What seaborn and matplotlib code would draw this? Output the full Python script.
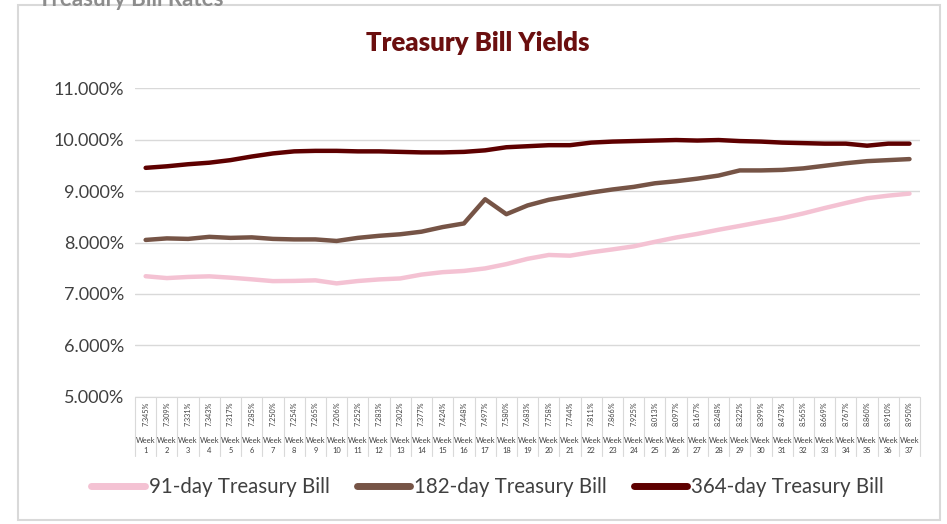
import numpy as np
import pandas as pd
import seaborn as sns
import matplotlib.pyplot as plt
from matplotlib.patches import Rectangle

# === DATA ===
weeks = [f"Week {i}" for i in range(1, 38)]

bill_91 = [7.345, 7.309, 7.331, 7.343, 7.317, 7.285, 7.250, 7.254, 7.265, 7.206,
           7.252, 7.283, 7.302, 7.377, 7.424, 7.448, 7.497, 7.580, 7.683, 7.758,
           7.744, 7.811, 7.866, 7.925, 8.013, 8.097, 8.167, 8.248, 8.322, 8.399,
           8.473, 8.565, 8.669, 8.767, 8.860, 8.910, 8.950]

bill_182 = [8.05, 8.08, 8.07, 8.11, 8.09, 8.10, 8.07, 8.06, 8.06, 8.03,
            8.09, 8.13, 8.16, 8.21, 8.30, 8.37, 8.84, 8.55, 8.72, 8.83,
            8.90, 8.97, 9.03, 9.08, 9.15, 9.19, 9.24, 9.30, 9.40, 9.40,
            9.41, 9.44, 9.49, 9.54, 9.58, 9.60, 9.62]

bill_364 = [9.45, 9.48, 9.52, 9.55, 9.60, 9.67, 9.73, 9.77, 9.78, 9.78,
            9.77, 9.77, 9.76, 9.75, 9.75, 9.76, 9.79, 9.85, 9.87, 9.89,
            9.89, 9.94, 9.96, 9.97, 9.98, 9.99, 9.98, 9.99, 9.97, 9.96,
            9.94, 9.93, 9.92, 9.92, 9.88, 9.92, 9.92]

series_names = ["91-day Treasury Bill", "182-day Treasury Bill", "364-day Treasury Bill"]
palette = {"91-day Treasury Bill": "#F4C2D3",
           "182-day Treasury Bill": "#765446",
           "364-day Treasury Bill": "#5E0000"}

df = pd.DataFrame({
    "week": list(range(len(weeks))) * 3,
    "series": np.repeat(series_names, len(weeks)),
    "yield": bill_91 + bill_182 + bill_364,
})

# === PLOT ===
sns.set_theme(style="white")
plt.rcParams["font.family"] = ["Lato", "DejaVu Sans"]

fig = plt.figure(figsize=(9.47, 5.24), dpi=100)
ax = fig.add_axes([0.1426, 0.2424, 0.829, 0.5896])

sns.lineplot(data=df, x="week", y="yield", hue="series", palette=palette,
             linewidth=3.2, ax=ax, legend=True)

ax.set_xlim(-0.5, len(weeks) - 0.5)
ax.set_ylim(5, 11)
ax.set_yticks(np.arange(5, 11.01, 1))
ax.set_yticklabels([f"{v:.3f}%" for v in np.arange(5, 11.01, 1)], fontsize=13, color="#404040")
ax.yaxis.grid(True, color="#D9D9D9", linewidth=1)
ax.set_xticks([])
ax.set_xlabel("")
ax.set_ylabel("")
for s in ax.spines.values():
    s.set_visible(False)
ax.tick_params(axis="y", length=0, pad=8)

# === Data table under the axis ===
trans = ax.get_xaxis_transform()
grid_kw = dict(color="#D9D9D9", linewidth=0.8, clip_on=False, transform=trans)
ax.plot([-0.5, len(weeks) - 0.5], [0, 0], **grid_kw)
for i in range(len(weeks) + 1):
    ax.plot([i - 0.5, i - 0.5], [0, -0.19], **grid_kw)
for i, w in enumerate(weeks):
    ax.text(i, -0.055, f"{bill_91[i]:.3f}%", rotation=90, ha="center", va="center",
            fontsize=5.2, color="#404040", transform=trans, clip_on=False)
    ax.text(i, -0.142, "Week", ha="center", va="center", fontsize=5.4,
            color="#404040", transform=trans, clip_on=False)
    ax.text(i, -0.172, w.split()[1], ha="center", va="center", fontsize=5.4,
            color="#404040", transform=trans, clip_on=False)

# === Legend ===
handles, labels = ax.get_legend_handles_labels()
for h in handles:
    h.set_linewidth(5)
    h.set_solid_capstyle("round")
ax.legend(handles, labels, loc="center", bbox_to_anchor=(0.515, 0.071),
          bbox_transform=fig.transFigure, ncol=3, frameon=False, fontsize=14.8,
          handlelength=2.6, handletextpad=0.2, columnspacing=1.3,
          labelcolor="#404040")

# === Title and frame ===
fig.text(0.505, 0.918, "Treasury Bill Yields", ha="center", va="center",
         fontsize=18.5, fontweight="heavy", color="#6B0F0F")
fig.text(0.04, 1.0, "Treasury Bill Rates", ha="left", va="center",
         fontsize=16, fontweight="bold", color="#8C8C8C")
fig.patches.append(Rectangle((0.019, 0.008), 0.974, 0.982, transform=fig.transFigure,
                             fill=False, edgecolor="#D9D9D9", linewidth=1.5))

fig.savefig("out.png", dpi=100)
